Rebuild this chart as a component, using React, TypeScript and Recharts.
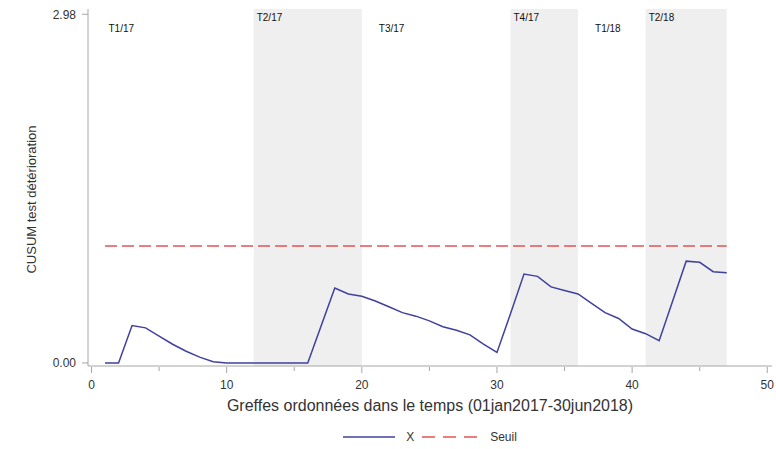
import React from "react";
import {
  ComposedChart,
  Line,
  XAxis,
  YAxis,
  ReferenceArea,
  Legend,
} from "recharts";

// greffes 1..47, CUSUM score
const greffes = [
  1, 2, 3, 4, 5, 6, 7, 8, 9, 10, 11, 12, 13, 14, 15, 16, 17, 18, 19, 20, 21,
  22, 23, 24, 25, 26, 27, 28, 29, 30, 31, 32, 33, 34, 35, 36, 37, 38, 39, 40,
  41, 42, 43, 44, 45, 46, 47,
];
const cusum = [
  0, 0, 0.32, 0.3, 0.23, 0.16, 0.1, 0.05, 0.01, 0, 0, 0, 0, 0, 0, 0, 0.32,
  0.64, 0.59, 0.57, 0.53, 0.48, 0.43, 0.4, 0.36, 0.31, 0.28, 0.24, 0.16, 0.09,
  0.42, 0.76, 0.74, 0.65, 0.62, 0.59, 0.51, 0.43, 0.38, 0.29, 0.25, 0.19, 0.53,
  0.87, 0.86, 0.78, 0.77,
];
const seuil = 1.0;

const quarters = ["T1/17", "T2/17", "T3/17", "T4/17", "T1/18", "T2/18"];
const quarterStart = [0, 12, 20, 31, 36, 41];
const quarterEnd = [12, 20, 31, 36, 41, 47];
const quarterShaded = [false, true, false, true, false, true];

const xTicks = [0, 5, 10, 15, 20, 25, 30, 35, 40, 45, 50];
const yTicks = [0, 2.98];

const data = greffes.map((g, i) => ({ g, x: cusum[i], seuil }));

const FONT = "'Liberation Sans', Arial, sans-serif";
const AXIS = "#a6a6a6";
const TEXT = "#333333";
const BLUE = "#40409e";
const RED = "#e05555";

const XTick = (props: any) => {
  const { x, y, payload } = props;
  const major = payload.value % 10 === 0;
  return (
    <g>
      <line x1={x} x2={x} y1={y + 1} y2={y + (major ? 7 : 5)} stroke={AXIS} />
      {major && (
        <text
          x={x}
          y={y + 23}
          textAnchor="middle"
          fontSize={12}
          fill={TEXT}
          fontFamily={FONT}
        >
          {payload.value}
        </text>
      )}
    </g>
  );
};

const quarterLabel = (name: string, shaded: boolean) => (props: any) => {
  const { viewBox } = props;
  return (
    <text
      x={viewBox.x + (shaded ? 3 : 17)}
      y={viewBox.y + (shaded ? 12 : 23)}
      fontSize={10}
      fill="#111"
      fontFamily={FONT}
    >
      {name}
    </text>
  );
};

const LegendContent = () => (
  <div
    style={{
      display: "flex",
      justifyContent: "center",
      alignItems: "center",
      fontFamily: FONT,
      fontSize: 12,
      color: TEXT,
      height: 24,
      paddingLeft: 88,
    }}
  >
    <svg width={52} height={6} style={{ marginRight: 11 }}>
      <line x1={0} x2={52} y1={3} y2={3} stroke={BLUE} strokeWidth={1.5} />
    </svg>
    <span style={{ marginRight: 8 }}>X</span>
    <svg width={55} height={6} style={{ marginRight: 13 }}>
      <line
        x1={0}
        x2={55}
        y1={3}
        y2={3}
        stroke={RED}
        strokeWidth={1.5}
        strokeDasharray="13 8"
      />
    </svg>
    <span>Seuil</span>
  </div>
);

export default function App() {
  return (
    <div style={{ position: "absolute", left: 0, top: 0, width: 776, height: 449, background: "#fff" }}>
      <ComposedChart
        width={776}
        height={449}
        data={data}
        margin={{ top: 9, right: 4, left: 0, bottom: 0 }}
      >
        {quarters.map((q, i) => (
          <ReferenceArea
            key={q}
            x1={quarterStart[i]}
            x2={quarterEnd[i]}
            fill={quarterShaded[i] ? "#efefef" : "none"}
            fillOpacity={1}
            stroke="none"
            label={quarterLabel(q, quarterShaded[i])}
          />
        ))}
        <XAxis
          dataKey="g"
          type="number"
          domain={[-0.26, 50.35]}
          ticks={xTicks}
          allowDataOverflow
          interval={0}
          height={59}
          tickSize={0}
          tickMargin={0}
          tickLine={false}
          axisLine={{ stroke: AXIS }}
          tick={<XTick />}
          label={{
            value: "Greffes ordonnées dans le temps (01jan2017-30jun2018)",
            position: "insideBottom",
            offset: 14,
            style: { fontSize: 16, fill: TEXT, fontFamily: FONT },
          }}
        />
        <YAxis
          type="number"
          domain={[-0.026, 3.025]}
          ticks={yTicks}
          allowDataOverflow
          width={88}
          tickSize={6}
          tickMargin={6}
          tickLine={{ stroke: AXIS }}
          axisLine={{ stroke: AXIS }}
          tickFormatter={(v: number) => v.toFixed(2)}
          tick={{ fontSize: 12, fill: TEXT, fontFamily: FONT }}
          label={(props: any) => {
            const cy = props.viewBox.y + props.viewBox.height / 2 + 12;
            return (
              <text
                x={36}
                y={cy}
                transform={`rotate(-90 36 ${cy})`}
                textAnchor="middle"
                fontSize={13}
                fill={TEXT}
                fontFamily={FONT}
              >
                CUSUM test détérioration
              </text>
            );
          }}
        />
        <ReferenceArea fill="none" stroke={AXIS} strokeWidth={1} />
        <Line
          dataKey="seuil"
          name="Seuil"
          stroke={RED}
          strokeWidth={1.5}
          strokeDasharray="12 5"
          dot={false}
          type="linear"
          isAnimationActive={false}
        />
        <Line
          dataKey="x"
          name="X"
          stroke={BLUE}
          strokeWidth={1.5}
          dot={false}
          type="linear"
          isAnimationActive={false}
        />
        <Legend verticalAlign="bottom" height={24} content={<LegendContent />} />
      </ComposedChart>
    </div>
  );
}
